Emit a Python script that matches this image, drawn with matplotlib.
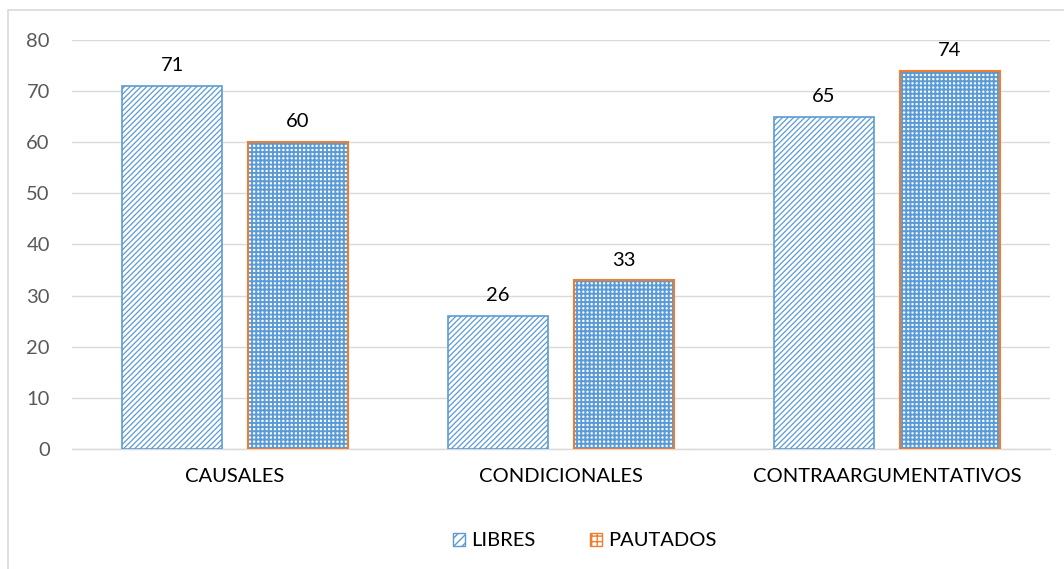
import matplotlib
matplotlib.use("Agg")
import matplotlib.pyplot as plt
from matplotlib.patches import Rectangle, Patch
import numpy as np

categories = ["CAUSALES", "CONDICIONALES", "CONTRAARGUMENTATIVOS"]
libres = [71, 26, 65]
pautados = [60, 33, 74]
series_names = ["LIBRES", "PAUTADOS"]

plt.rcParams['font.family'] = ['Lato', 'DejaVu Sans']

blue = "#5B9BD5"
orange = "#ED7D31"
FS = 14.5

fig = plt.figure(figsize=(10.64, 5.69), dpi=100)
ax = fig.add_axes([72/1064, 1-449/569, (1050-72)/1064, (449-40)/569])

x = np.arange(len(categories))
w = 0.307
off = 0.193

# LIBRES: white with blue diagonal hatch
with plt.rc_context({'hatch.linewidth': 0.9}):
    b1 = ax.bar(x - off, libres, w, color="white", edgecolor=blue, hatch="//////", linewidth=0, zorder=3)
ax.bar(x - off, libres, w, fill=False, edgecolor=blue, linewidth=1.2, zorder=4)
# PAUTADOS: blue grid on white -> white dots
with plt.rc_context({'hatch.linewidth': 1.4}):
    b2 = ax.bar(x + off, pautados, w, color="white", edgecolor=blue, hatch="++++", linewidth=0, zorder=3)
ax.bar(x + off, pautados, w, fill=False, edgecolor=orange, linewidth=1.5, zorder=4)
for p in b1:
    if hasattr(p, "set_hatch_linewidth"):
        p.set_hatch_linewidth(0.9)
for p in b2:
    if hasattr(p, "set_hatch_linewidth"):
        p.set_hatch_linewidth(1.4)

for xi, v in zip(x - off, libres):
    ax.text(xi, v + 2.3, str(v), ha="center", va="bottom", fontsize=FS, color="black")
for xi, v in zip(x + off, pautados):
    ax.text(xi, v + 2.3, str(v), ha="center", va="bottom", fontsize=FS, color="black")

ax.set_xlim(-0.5, 2.5)
ax.set_ylim(0, 80)
ax.set_yticks(range(0, 81, 10))
ax.yaxis.grid(True, color="#D9D9D9", linewidth=1)
ax.set_axisbelow(True)
for s in ["top", "right", "left"]:
    ax.spines[s].set_visible(False)
ax.spines["bottom"].set_color("#D9D9D9")
ax.spines["bottom"].set_linewidth(1)
ax.tick_params(axis="y", length=0, labelsize=FS, labelcolor="#595959", pad=16)
ax.tick_params(axis="x", length=0, labelsize=FS, labelcolor="black", pad=14)
ax.set_xticks(x)
ax.set_xticklabels(categories)

h1 = Patch(facecolor="white", edgecolor=blue, hatch="////", linewidth=1.0)
h2 = Patch(facecolor="white", edgecolor=blue, hatch="+++", linewidth=1.0)
leg = fig.legend([h1, h2], series_names, loc="center", bbox_to_anchor=(585/1064, 1-541/569),
                 ncol=2, frameon=False, fontsize=FS, handlelength=0.6, handleheight=0.6,
                 handletextpad=0.3, columnspacing=2.7)
leg.legend_handles[1].set_edgecolor(orange)

border = Rectangle((8/1064, -0.05), 1.1, 1-10/569+0.05, transform=fig.transFigure,
                   fill=False, edgecolor="#D9D9D9", linewidth=1.2, clip_on=False)
fig.patches.append(border)

fig.savefig("out.png", dpi=100)
